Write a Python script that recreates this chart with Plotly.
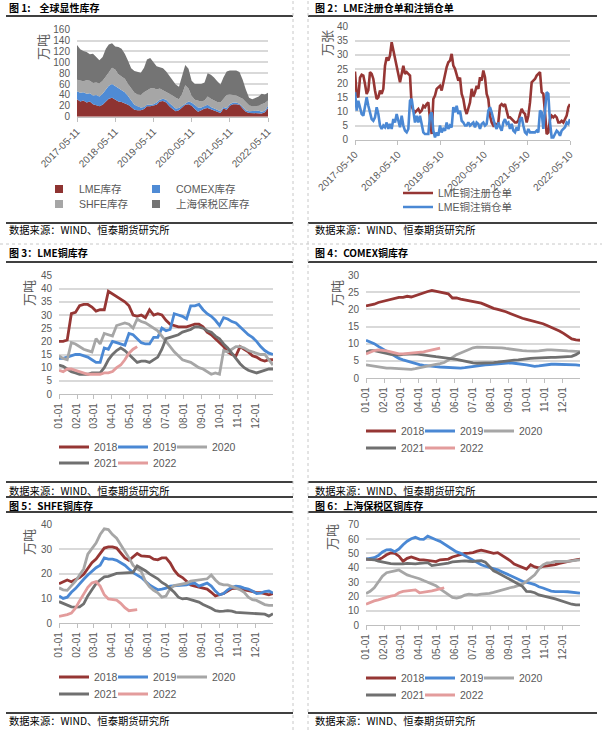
import plotly.graph_objects as go
import pandas as pd

W, H = 602, 730
FONT = "'Liberation Sans', Arial, 'Noto Sans CJK SC', sans-serif"
CJK = "'Noto Sans CJK SC', 'Liberation Sans', sans-serif"
TXT = "#595959"
GRID = "#D9D9D9"
AXIS = "#BFBFBF"
C_RED, C_BLUE, C_LGRAY, C_DGRAY, C_PINK = "#963634", "#4A88D4", "#A6A6A6", "#707070", "#E39C9C"

# ---------------- Panel 1: global visible stocks (monthly, stacked) ----------------
p1_start = "2017-05-11"
p1_lme = [32,28,30,26,28,23,21,19,22,28,33,35,31,28,27,25,22,18,13,12,12,14,19,19,20,22,28,29,26,19,
          14,10,12,17,22,23,20,14,9,12,15,16,14,12,9,7,15,13,20,23,23,22,15,9,7,7,7,7,6,8,16]
p1_comex = [15,16,15,16,15,16,19,18,20,23,24,25,25,24,22,20,16,12,9,7,5,4,3,3,3,4,3,4,5,6,
            6,5,4,3,3,5,6,7,8,5,4,6,4,3,3,3,3,3,3,3,3,2,3,3,3,3,3,4,3,3,4]
p1_shfe = [21,22,20,25,23,23,23,24,24,23,25,30,31,26,25,25,22,22,22,22,23,27,27,30,30,24,21,16,14,17,
           19,20,16,22,33,24,12,10,12,11,11,15,15,15,15,16,14,24,18,14,13,12,15,15,11,9,9,9,14,14,10]
p1_bond = [64,58,56,52,49,54,47,43,44,51,51,45,42,50,51,46,43,37,40,42,41,45,56,56,47,43,39,40,38,33,
           29,24,23,33,37,36,28,29,31,32,33,43,44,42,38,33,40,43,44,45,46,46,35,23,14,13,15,17,19,16,14]
p1_names = ["LME库存", "COMEX库存", "SHFE库存", "上海保税区库存"]
p1_ticks = ["2017-05-11", "2018-05-11", "2019-05-11", "2020-05-11", "2021-05-11", "2022-05-11"]

# ---------------- Panel 2: LME warrants ----------------
p2_start, p2_end = "2017-05-10", "2022-05-10"
p2_reg = [24.1,16,15,22,23,22.7,19.7,16.2,17.5,23.9,
          23.3,21.5,17.4,14.4,15,17.4,16.2,18,26.2,29.2,
          28,29.8,34.5,31.6,28.6,26.8,23.9,20.3,23.3,26.2,
          23.3,23.9,23.3,22.7,12,10.3,9.7,10.3,10.9,9.7,
          10.3,12,11.5,12.6,13.2,7.3,2,14.4,15.6,18,
          18.6,19.1,17.4,20.3,23.9,25.7,27.4,28,30.4,26.2,
          25.1,23.3,20.9,22,16.2,14.4,10.9,9.1,10.9,13.2,
          18,15.3,16.8,19.1,18,22.1,20.9,24.5,22.1,16.2,
          14.4,8.5,6.1,5,5.6,5,6.1,12,12.6,12,
          12.6,10.3,7.9,7.9,7.3,6.7,6.1,6.1,6.7,9.1,
          10.9,9.7,9.1,6.1,8.5,13.2,20.3,20.9,21.5,22.7,
          23.3,23.9,16.8,16.2,9.7,2,2.6,7.3,8.5,7.9,
          8.5,7.9,6.1,6.1,6.7,6.1,7.3,8.5,11.5,12.6]
p2_cancel = [16.8,10.3,13.8,10.9,9.1,8.5,12.6,15,12,9.1,
             7.3,6.7,7.9,11.5,9.1,5,3.8,5,4.4,6.1,
             3.8,5.6,3.8,7.3,6.1,9.1,6.1,4.4,8.5,5,
             3.2,2.6,3.8,13.8,14.4,9.7,6.1,8.5,6.1,8.5,
             5.6,2.6,2,2,2,8.5,9.7,3.2,0.8,2.6,
             1.4,5,2.6,3.8,3.2,6.1,3.8,5,4.4,11.5,
             9.7,12,9.1,10.3,6.7,6.1,5,5,6.1,5,
             5.6,6.1,4.4,6.1,5.6,3.8,5.6,6.1,5,5.6,
             10.3,11.5,9.7,7.3,5,3.8,6.1,4.4,3.2,6.1,
             7.3,5.6,6.1,3.8,5.6,3.2,2.6,4.4,3.2,7.3,
             7.9,5,2.6,2,3.8,2.6,2.6,2.6,2.6,3.2,
             2.6,10.3,9.7,3.8,10.9,16.8,16.2,6.1,0.8,0.8,
             2,3.2,2.6,1.4,3.2,3.8,4.4,6.1,5.6,7.3]
p2_names = ["LME铜注册仓单", "LME铜注销仓单"]
p2_ticks = ["2017-05-10", "2018-05-10", "2019-05-10", "2020-05-10", "2021-05-10", "2022-05-10"]

# ---------------- Seasonal panels (weekly points from 01-01) ----------------
years = ["2018", "2019", "2020", "2021", "2022"]
lme = {
 "2018": [20,20,20.5,30.5,31,33.5,34,34,33,31.5,32,32,39,38,37,36,35,33.5,30,29.5,30,29,32,30,30.5,30,28,26.5,26,25.5,
          25.5,25.5,26,26.5,26.5,25.5,23.5,22.5,21,19.5,18,16,15,14.5,18,17,16,14.5,14,13,12.5,13,13],
 "2019": [13.5,13.5,14,14.5,15,15,14.5,14,13,12,12,17.5,17,20,19.5,19,18.5,23,22.5,21,19.5,19,19,21.5,21.5,25,24,24.5,30.5,30,
          29.5,28.5,33.5,33.5,34,32,30.5,29.5,28,26,29,28.5,27.5,27,25.5,24,22.5,21.5,20,18,16.5,15.5,15],
 "2020": [14.5,13.5,13,19.5,19,18,17,16.5,16,21,19,23,22.5,22,26,26.5,27,26.5,25,28.5,27.5,27,26,25,24,22,20,18,16,14.5,
          13,12.5,12,11,10,9.5,8.5,7.5,8,7.5,16.5,16,17,18,18,17.5,16.5,16,15.5,15,15,13,11],
 "2021": [11,10.5,9.5,8.5,8,7.5,7.5,7.5,8,8,8,10,13,15,16.5,17.5,16.5,15,13.5,12,12.5,12.5,12,13,14,17,21,21.5,22,22.5,
          23.5,24,24.5,25.5,25.5,25,24,23.5,22,21,19,17.5,15.5,13.5,11.5,10,9,8.5,8,8.5,9,9.5,9.5],
 "2022": [9,8.5,9.5,9.5,9,8.5,8,7.5,7.5,7.5,7.5,8,8,8.5,10,11,13,15.5,17,18],
}
comex = {
 "2018": [21,21.2,21.5,22,22.3,22.5,23,23.3,23.5,23.5,23.8,23.6,24,24.5,25,25.2,25.5,25.3,25,24.8,24.5,23.3,23.3,23,22.8,
          22.6,22.3,22.2,21.8,21.3,20.7,20.3,20,19.7,19.3,18.8,18.3,17.8,17.4,17.1,16.8,16.5,16.1,15.8,15.3,14.8,14.3,13.7,
          13,12.2,11.4,11.1,11],
 "2019": [11,10.5,10,9.2,8.5,7.8,7,6.3,5.7,5.3,4.9,4.5,4.2,3.9,3.7,3.5,3.4,3.3,3.2,3.1,3.0,3.0,2.9,2.9,3.0,3.2,3.4,3.6,
          3.7,3.8,3.9,4.0,4.1,4.3,4.4,4.4,4.3,4.2,4.0,3.8,3.6,3.4,3.5,3.7,3.9,4.0,4.0,4.0,4.0,3.9,3.8,3.8,3.7],
 "2020": [3.8,3.6,3.5,3.4,3.1,2.9,2.9,2.8,2.7,2.6,2.5,2.5,2.7,3.0,3.3,3.6,3.9,4.0,4.2,4.5,5.2,6.0,6.8,7.3,7.8,8.3,8.8,
          9.0,9.0,9.0,9.0,9.0,8.9,8.8,8.6,8.4,8.2,8.1,8.0,7.9,7.8,7.8,7.9,8.1,8.2,8.2,8.2,8.1,8.0,7.9,7.8,7.7,7.7],
 "2021": [7.6,8.0,8.0,7.8,7.5,7.2,6.9,6.7,6.7,6.9,7.0,7.0,7.0,6.9,6.8,6.6,6.4,6.2,6.1,5.9,5.8,5.6,5.4,5.1,4.8,4.6,4.4,
          4.3,4.3,4.3,4.4,4.5,4.6,4.8,5.0,5.1,5.2,5.3,5.5,5.6,5.7,5.8,5.9,5.9,6.0,6.0,6.0,6.1,6.2,6.2,6.3,6.8,7.5],
 "2022": [7.0,7.6,8.0,8.2,8.1,7.9,7.6,7.2,7.0,7.0,7.1,7.2,7.3,7.4,7.6,7.9,8.2,8.5,8.7],
}
shfe = {
 "2018": [16,16.8,17.5,16.8,17.5,18.5,19.8,22,24.5,26,28.5,30.5,31,31,30.5,28.5,26.5,25.5,27,28.3,27.3,27.3,27,26,25.7,
          26.5,26.5,24.5,21.5,19.5,18.5,17,15.5,15,14.5,14,13.8,12.5,11,11.5,12,13,14,14.2,14,13.5,13.2,12.8,12.4,12.4,12,11.5,12],
 "2019": [11,10,10.5,12.5,14,16,17.8,19.5,21,22.5,23.5,26.5,26,26,25.5,24.5,23.5,22,20.5,19.5,18.5,17,15.5,14.5,13.5,
          13.8,14.2,15,15.1,15,15.2,15.5,16,16.2,15,15.5,16.2,15,13,11.5,12,13.5,14.5,15,14.8,14.2,13.8,13,12,12.2,12.8,13,12.2],
 "2020": [14.3,13.5,13.3,15,17,19.5,22,28,30.5,32.5,36,38.3,38,36,34.5,32,29.5,26.5,23.5,22,21,17,14.7,13.3,12.3,
          10.5,11,14,15.2,15.5,16,16.2,17,17.3,17.5,17.6,18,19.5,17.5,16,15.5,15.5,15,14.2,13.5,12.5,10.5,9.5,9.2,8.5,7.5,7.2,7.2],
 "2021": [8.7,8,7.3,6.6,6.5,6.6,7.8,11,13.5,16,17.5,18.8,19,19.5,20.2,20.3,20.5,20.5,20.6,23.2,22.3,21.3,20,19,18,
          16.5,15.5,14,12.5,10.5,9.8,10,9.6,9,8.5,7.5,6.8,6,5,4.7,4.8,5,4.8,4.3,4.2,4.1,4.1,4.0,4.1,3.9,3.6,2.8,3.8],
 "2022": [2.7,3,3.4,4,6,9,12,14.5,16.3,16.8,15,11.5,9.8,9.5,9.3,8,6.2,5,5.3,5.4],
}
bond = {
 "2018": [46,45.8,45.8,45.5,47,49,50.3,50,48,44.5,46.5,47.5,46.5,45.5,45.5,45,45,44.3,45.5,46,46,47.5,48.5,49,50,
          50.2,50.5,51.5,52.2,51.5,50.5,50,50.5,48.8,47,45,42.5,41.5,40,39,42,40.5,39.8,41,41.2,41.5,42.2,43,43.8,44.2,45,45.5,46],
 "2019": [46,46.3,47,48.5,51,52.5,52.6,51.2,53,56,58.5,60.2,61.2,60,59.8,62,60.5,59.5,58.4,56.5,55,52.5,51,50,48.3,
          46.5,44.8,43.3,42,41,40.3,39.4,38.5,37.2,36,34.5,33.3,32,30.5,29.5,29,28.2,26.7,25.8,24.8,23.7,23.3,23.5,23.3,23.2,22.9,22.5,22.2],
 "2020": [22,23.5,26,30,34,36.5,37.4,37.8,38.4,36.5,35,34,33.2,32.3,31,30,28.8,27.5,25.2,23,21,19.2,18.8,19.5,20.8,
          21.5,21.2,21,21.6,21.6,22,22.7,23.5,24.6,25.6,26,26.6,27.5,28.5,30.5,32.5,35,39,42,43.3,43.5,44.3,44.2,44.2,44.5,44.7,45,45.5],
 "2021": [46,46,45.5,44.5,43.8,43.2,42.8,42.6,42.5,42.6,43,42.8,42.6,43,43.3,43.5,41.5,41.8,42.2,42.8,43.2,44,44.3,44.5,44.8,
          44.5,44.2,44.8,44.9,43.8,41,37.8,36.5,35,33,31.5,30,28.5,27,23.5,23.3,22.5,21,20.3,19.8,19,18.2,17.2,16.5,15.5,14.5,14,14],
 "2022": [14.5,15.8,16.8,17.5,18.5,19.5,20.2,20.6,22.5,23.5,24,24.4,24.5,22.5,22.8,23.3,23.8,24.5,25.2,26],
}
year_colors = {"2018": C_RED, "2019": C_BLUE, "2020": C_LGRAY, "2021": C_DGRAY, "2022": C_PINK}
season_base = pd.Timestamp("2021-01-01")


def week_dates(n):
    return [season_base + pd.Timedelta(days=7 * k) for k in range(n)]


def px(v):
    return v / W


def py(v):
    return 1 - v / H


fig = go.Figure()

# ---- panel 1 traces
p1_dates = [pd.Timestamp(p1_start) + pd.DateOffset(months=i) for i in range(len(p1_lme))]
p1_cols = ["#8E3331", "#4F8BD5", "#A6A6A6", "#747474"]
for name, vals, col in zip(p1_names, [p1_lme, p1_comex, p1_shfe, p1_bond], p1_cols):
    fig.add_trace(go.Scatter(x=p1_dates, y=vals, stackgroup="p1", mode="lines", line=dict(width=0, color=col),
                             fillcolor=col, name=name, showlegend=False, xaxis="x", yaxis="y", hoverinfo="skip"))
for i, (name, col) in enumerate(zip(p1_names, p1_cols)):
    fig.add_trace(go.Scatter(x=[None], y=[None], mode="markers", name=name,
                             marker=dict(symbol="square", size=8, color=col),
                             legendwidth=52 if i in (0, 2) else 90,
                             legend="legend" if i < 2 else "legend2", xaxis="x", yaxis="y"))

# ---- panel 2 traces
for i, (name, vals, col) in enumerate(zip(p2_names, [p2_reg, p2_cancel], [C_RED, C_BLUE])):
    dts = pd.date_range(p2_start, p2_end, periods=len(vals))
    fig.add_trace(go.Scatter(x=dts, y=vals, mode="lines", name=name, line=dict(color=col, width=2.6),
                             legend="legend3" if i == 0 else "legend4", xaxis="x2", yaxis="y2"))

# ---- seasonal panels
season_sets = [(lme, "x3", "y3", 5), (comex, "x4", "y4", 7), (shfe, "x5", "y5", 9), (bond, "x6", "y6", 11)]
for data, xa, ya, lg in season_sets:
    for yr in years:
        vals = data[yr]
        leg_name = ("legend%d" % lg) if yr in ("2018", "2019", "2020") else ("legend%d" % (lg + 1))
        fig.add_trace(go.Scatter(x=week_dates(len(vals)), y=vals, mode="lines", name=yr,
                                 line=dict(color=year_colors[yr], width=2.8),
                                 legendwidth=30 if yr in ("2020", "2022") else 14,
                                 legend=leg_name, xaxis=xa, yaxis=ya))

tickfont = dict(family=FONT, size=10, color=TXT)


def yaxis(top, bottom, rng, dtick, anchor):
    return dict(domain=[py(bottom), py(top)], range=rng, dtick=dtick, tick0=0, anchor=anchor,
                showgrid=True, gridcolor=GRID, gridwidth=1.5, zeroline=False, showline=False,
                ticks="", ticklabelstandoff=6, tickfont=tickfont, fixedrange=True)


def xaxis_date(left, right, anchor, rng, tickvals, angle):
    return dict(domain=[px(left), px(right)], anchor=anchor, type="date", range=rng,
                tickvals=tickvals, ticktext=tickvals, tickangle=angle,
                showgrid=False, zeroline=False, showline=True, linecolor=AXIS, linewidth=1.2,
                ticks="outside", ticklen=4, tickcolor=AXIS, tickfont=tickfont, fixedrange=True)


def xaxis_season(left, right, anchor):
    return dict(domain=[px(left), px(right)], anchor=anchor, type="date",
                range=["2021-01-01", "2021-12-31"], tick0="2021-01-01", dtick="M1", tickformat="%m-%d",
                tickangle=-90, showgrid=False, zeroline=False, showline=True, linecolor=AXIS, linewidth=1.2,
                ticks="outside", ticklen=4, tickcolor=AXIS, tickfont=tickfont, fixedrange=True)


layout = dict(
    width=W, height=H, margin=dict(l=0, r=0, t=0, b=0, autoexpand=False),
    paper_bgcolor="white", plot_bgcolor="white",
    xaxis=xaxis_date(77, 268, "y", [p1_ticks[0], p1_ticks[-1]], p1_ticks, -45),
    yaxis=yaxis(29.7, 116.7, [0, 160], 20, "x"),
    xaxis2=xaxis_date(355, 570, "y2", [p2_ticks[0], p2_ticks[-1]], p2_ticks, -45),
    yaxis2=yaxis(26.7, 139.7, [0, 40], 5, "x2"),
    xaxis3=xaxis_season(59, 273, "y3"),
    yaxis3=yaxis(275.5, 394, [0, 45], 5, "x3"),
    xaxis4=xaxis_season(366, 580, "y4"),
    yaxis4=yaxis(275, 378, [0, 30], 5, "x4"),
    xaxis5=xaxis_season(59, 273, "y5"),
    yaxis5=yaxis(524.7, 623, [0, 40], 10, "x5"),
    xaxis6=xaxis_season(366, 580, "y6"),
    yaxis6=yaxis(524.7, 625, [0, 70], 10, "x6"),
    hovermode=False,
)


def legend_cfg(x, y, size=10.5):
    return dict(x=px(x), y=py(y), xanchor="left", yanchor="middle", orientation="h", traceorder="normal",
                font=dict(family=FONT, size=size, color=TXT), bgcolor="rgba(0,0,0,0)", borderwidth=0,
                itemclick=False, itemdoubleclick=False, tracegroupgap=0)


layout["legend"] = legend_cfg(39, 189)
layout["legend2"] = legend_cfg(39, 204)
layout["legend3"] = legend_cfg(398, 193)
layout["legend4"] = legend_cfg(398, 207)
layout["legend5"] = legend_cfg(54, 447)
layout["legend6"] = legend_cfg(54, 463)
layout["legend7"] = legend_cfg(361, 431)
layout["legend8"] = legend_cfg(361, 448)
layout["legend9"] = legend_cfg(54, 677)
layout["legend10"] = legend_cfg(54, 694)
layout["legend11"] = legend_cfg(361, 678)
layout["legend12"] = legend_cfg(361, 695)

fig.update_layout(**layout)

# ---- text annotations
titles = [(7, 8, "图 1:    全球显性库存"), (313, 8, "图 2：LME注册仓单和注销仓单"),
          (7, 252, "图 3：LME铜库存"), (313, 252, "图 4：COMEX铜库存"),
          (7, 505, "图 5：SHFE铜库存"), (313, 505, "图 6：上海保税区铜库存")]
for x, y, t in titles:
    fig.add_annotation(x=px(x), y=py(y), xref="paper", yref="paper", text="<b>%s</b>" % t, showarrow=False,
                       xanchor="left", yanchor="middle", font=dict(family=CJK, size=10, color="black"))
source = "数据来源：WIND、恒泰期货研究所"
for x, y in [(7, 230), (313, 230), (7, 490), (313, 490), (7, 720), (313, 720)]:
    fig.add_annotation(x=px(x), y=py(y), xref="paper", yref="paper", text=source, showarrow=False,
                       xanchor="left", yanchor="middle", font=dict(family=CJK, size=10.3, color="black"))
for x, y, t in [(42, 47, "万吨"), (326, 43, "万张"), (28, 293, "万吨"), (336, 293, "万吨"),
                (28, 542, "万吨"), (331, 537, "万吨")]:
    fig.add_annotation(x=px(x), y=py(y), xref="paper", yref="paper", text=t, showarrow=False, textangle=-90,
                       xanchor="center", yanchor="middle", font=dict(family=CJK, size=13, color=TXT))

# ---- table borders
shapes = []
for y in [16, 223, 262, 482, 497, 512, 713]:
    for x0, x1 in [(6, 293), (308, 597)]:
        shapes.append(dict(type="line", xref="paper", yref="paper", x0=px(x0), x1=px(x1), y0=py(y), y1=py(y),
                           line=dict(color="black", width=1.3)))
for x in [293, 308]:
    shapes.append(dict(type="line", xref="paper", yref="paper", x0=px(x), x1=px(x), y0=0, y1=1,
                       line=dict(color="#C8C8C8", width=1, dash="dot")))
for y in [244]:
    shapes.append(dict(type="line", xref="paper", yref="paper", x0=0, x1=1, y0=py(y), y1=py(y),
                       line=dict(color="#C8C8C8", width=1, dash="dot")))
fig.update_layout(shapes=shapes)

fig.write_html("out.html", config={"displayModeBar": False},
               post_script="document.body.style.margin='0px';document.body.style.padding='0px';")
